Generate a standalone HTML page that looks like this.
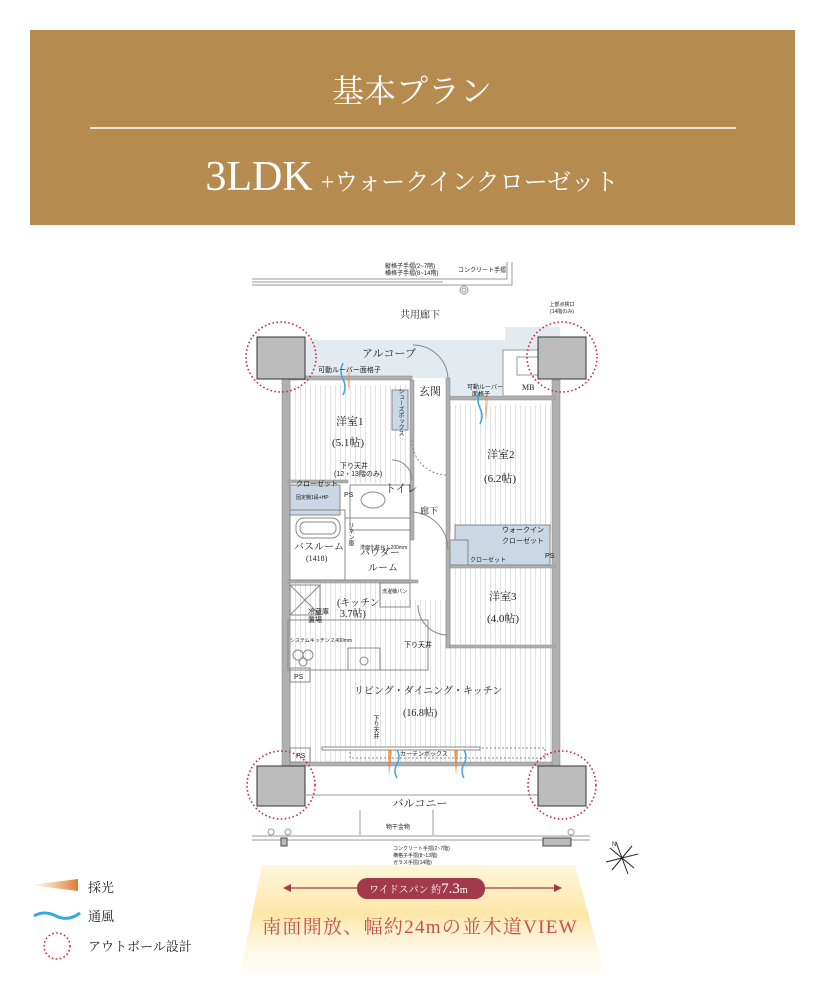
<!DOCTYPE html>
<html><head><meta charset="utf-8"><style>
html,body{margin:0;padding:0;background:#fff}
svg{display:block}
text{font-family:"Liberation Serif","Noto Serif CJK SC","Noto Sans CJK JP",serif;fill:#222}
.s{font-family:"Liberation Sans","Noto Sans CJK JP",sans-serif}
</style></head><body>
<svg width="825" height="990" viewBox="0 0 825 990" xmlns="http://www.w3.org/2000/svg">
<defs>
<pattern id="fl" width="5" height="10" patternUnits="userSpaceOnUse"><rect width="5" height="10" fill="#fff"/><line x1="0.5" y1="0" x2="0.5" y2="10" stroke="#e2e2e2" stroke-width="1"/></pattern>
<linearGradient id="lt" x1="0" y1="0" x2="1" y2="0"><stop offset="0" stop-color="#f0a060" stop-opacity="0"/><stop offset="1" stop-color="#e07a30"/></linearGradient>
<linearGradient id="lt2" x1="0" y1="1" x2="0" y2="0"><stop offset="0" stop-color="#e8843a"/><stop offset="1" stop-color="#e8843a" stop-opacity="0"/></linearGradient>
<linearGradient id="yg" x1="0" y1="0" x2="0" y2="1"><stop offset="0" stop-color="#fff6dc"/><stop offset="0.45" stop-color="#fde7a8"/><stop offset="1" stop-color="#fffaf0" stop-opacity="0.3"/></linearGradient>
</defs>
<rect x="30" y="30" width="765" height="195" fill="#b68b50"/>
<text x="412" y="102" text-anchor="middle" font-size="32" style="fill:#fff">基本プラン</text>
<line x1="90" y1="128" x2="736" y2="128" stroke="#fff" stroke-width="1.5"/>
<text x="412" y="190" text-anchor="middle" style="fill:#fff"><tspan font-size="42">3LDK</tspan><tspan font-size="24" dx="8">+ウォークインクローゼット</tspan></text>

<g stroke="#999" fill="none" stroke-width="1">
<line x1="252" y1="279" x2="443" y2="279"/><line x1="252" y1="282" x2="443" y2="282"/><line x1="252" y1="285" x2="443" y2="285"/>
<polyline points="443,279 507,279 507,262"/><polyline points="443,285 512,285 512,262"/>
<circle cx="464" cy="290" r="4"/><circle cx="464" cy="290" r="2"/>
</g>
<text x="385" y="268" font-size="6" class="s">縦格子手摺(2~7階)</text>
<text x="385" y="275" font-size="6" class="s">横格子手摺(8~14階)</text>
<text x="458" y="272" font-size="6" class="s">コンクリート手摺</text>
<text x="420" y="318" text-anchor="middle" font-size="10">共用廊下</text>
<text x="562" y="306" text-anchor="middle" font-size="5" class="s">上部点検口</text>
<text x="562" y="313" text-anchor="middle" font-size="5" class="s">(14階のみ)</text>

<polygon points="305,340 505,340 505,327 560,327 560,395 450,395 450,378 305,378" fill="#e3eaf0"/>
<rect x="503" y="350" width="52" height="46" fill="#fff" stroke="#999"/>
<rect x="517" y="357" width="22" height="18" fill="none" stroke="#999"/>
<text x="522" y="390" font-size="8">MB</text>
<text x="362" y="357" font-size="11">アルコーブ</text>

<rect x="288" y="385" width="124" height="98" fill="url(#fl)"/>
<rect x="450" y="405" width="105" height="128" fill="url(#fl)"/>
<rect x="450" y="568" width="105" height="80" fill="url(#fl)"/>
<rect x="288" y="648" width="267" height="115" fill="url(#fl)"/>
<rect x="288" y="583" width="93" height="65" fill="url(#fl)"/>
<rect x="381" y="600" width="69" height="48" fill="url(#fl)"/>

<g fill="#b0b0b0" stroke="#888" stroke-width="0.5">
<rect x="282" y="378" width="8" height="390"/>
<rect x="552" y="380" width="8" height="388"/>
<rect x="290" y="376" width="122" height="4"/>
<rect x="448" y="396" width="107" height="4"/>
<rect x="410" y="380" width="4" height="160"/>
<rect x="446" y="378" width="4" height="270"/>
<rect x="290" y="762" width="262" height="4"/>
<rect x="288" y="480" width="60" height="3"/>
<rect x="288" y="580" width="130" height="3"/>
<rect x="450" y="565" width="105" height="3"/>
<rect x="450" y="645" width="105" height="3"/>
</g>
<g stroke="#888" fill="none" stroke-width="1">
<rect x="350" y="485" width="60" height="45"/>
<rect x="290" y="485" width="50" height="30" fill="#c9d8e4"/>
<rect x="290" y="510" width="55" height="70"/>
<rect x="345" y="518" width="65" height="62"/>
<rect x="380" y="583" width="30" height="24"/>
<rect x="288" y="620" width="140" height="50"/>
<rect x="290" y="668" width="20" height="14"/>
<rect x="290" y="748" width="20" height="14"/>
<rect x="290" y="585" width="30" height="30"/>
<line x1="290" y1="585" x2="320" y2="615"/><line x1="320" y1="585" x2="290" y2="615"/>
<rect x="296" y="518" width="44" height="20" rx="8"/>
<rect x="300" y="522" width="36" height="12" rx="5"/>
<ellipse cx="373" cy="500" rx="12" ry="8"/>
<rect x="348" y="648" width="32" height="22"/><circle cx="364" cy="661" r="4"/>
<circle cx="298" cy="655" r="5"/><circle cx="308" cy="655" r="5"/><circle cx="303" cy="662" r="4"/>
<rect x="455" y="525" width="95" height="40" fill="#c9d8e4"/>
<rect x="450" y="540" width="18" height="25" fill="#c9d8e4"/>
<rect x="392" y="390" width="16" height="40" fill="#c9d8e4"/>
<rect x="350" y="748" width="195" height="10" stroke-dasharray="2,2"/>
<rect x="322" y="747" width="158" height="3" fill="#fff"/>
<path d="M412,440 A35,35 0 0 0 447,475" stroke-dasharray="2,2"/>
<path d="M412,512 A38,38 0 0 1 448,550"/>
<path d="M413,345 A35,35 0 0 1 448,378"/>
<path d="M392,460 A20,20 0 0 1 412,480"/>
<path d="M418,605 A30,30 0 0 0 448,635"/>
</g>
<g stroke="#999" fill="none">
<line x1="306" y1="795" x2="540" y2="795"/>
<line x1="360" y1="810" x2="360" y2="835"/><line x1="433" y1="810" x2="433" y2="835"/>
<line x1="252" y1="836" x2="590" y2="836"/><line x1="252" y1="840" x2="590" y2="840"/>
<circle cx="271" cy="832" r="3"/><circle cx="288" cy="832" r="3"/><circle cx="571" cy="832" r="3"/>
</g>
<rect x="543" y="838" width="28" height="8" fill="#bbb" stroke="#444"/>
<rect x="281" y="838" width="6" height="8" fill="#bbb" stroke="#444"/>
<text x="420" y="807" text-anchor="middle" font-size="11">バルコニー</text>
<text x="398" y="829" text-anchor="middle" font-size="6" class="s">物干金物</text>
<text x="393" y="850" font-size="5" class="s">コンクリート手摺(2~7階)</text>
<text x="393" y="857" font-size="5" class="s">横格子手摺(8~13階)</text>
<text x="393" y="864" font-size="5" class="s">ガラス手摺(14階)</text>

<g fill="#bcbcbc" stroke="#333" stroke-width="1">
<rect x="257" y="337" width="48" height="42"/>
<rect x="538" y="337" width="48" height="42"/>
<rect x="257" y="766" width="48" height="40"/>
<rect x="538" y="766" width="48" height="40"/>
</g>
<g fill="none" stroke="#c8303a" stroke-width="1.6" stroke-dasharray="1.6,2.4">
<circle cx="281" cy="357" r="35"/><circle cx="562" cy="357" r="35"/>
<circle cx="281" cy="785" r="34"/><circle cx="562" cy="785" r="34"/>
</g>

<g>
<polygon points="346,365 351,365 349,392" fill="url(#lt2)"/>
<polygon points="484,392 489,392 486,420" fill="url(#lt2)"/>
<polygon points="388,750 392,750 389,776" fill="#e8843a" opacity="0.8"/>
<polygon points="454,750 458,750 456,776" fill="#e8843a" opacity="0.8"/>
<g stroke="#3aa8e0" fill="none" stroke-width="1.5">
<path d="M343,363 q-4,8 0,16 q4,8 0,16"/>
<path d="M480,392 q-4,8 0,16 q4,8 0,16"/>
<path d="M397,750 q4,7 0,14 q-4,7 0,14"/>
<path d="M464,750 q4,7 0,14 q-4,7 0,14"/>
</g>
</g>

<g font-size="7" class="s">
<text x="318" y="372" class="s">可動ルーバー面格子</text>
<text x="467" y="389" class="s" font-size="6">可動ルーバー</text>
<text x="472" y="396" class="s" font-size="6">面格子</text>
<text x="340" y="468" class="s">下り天井</text>
<text x="334" y="476" class="s">(12・13階のみ)</text>
<text x="296" y="486" class="s">クローゼット</text>
<text x="296" y="499" class="s" font-size="5">固定棚1段+HP</text>
<text x="344" y="497" class="s">PS</text>
<text x="360" y="549" class="s" font-size="5">洗面化粧台 1,200mm</text>
<text x="308" y="614" class="s" font-size="7">冷蔵庫</text>
<text x="308" y="622" class="s" font-size="7">置場</text>
<text x="290" y="642" class="s" font-size="5">システムキッチン 2,400mm</text>
<text x="294" y="679" class="s">PS</text>
<text x="296" y="758" class="s">PS</text>
<text x="404" y="647" class="s">下り天井</text>
<text x="400" y="756" class="s" font-size="6">カーテンボックス</text>
<text x="545" y="558" class="s">PS</text>
<text x="502" y="532" class="s">ウォークイン</text>
<text x="502" y="543" class="s">クローゼット</text>
<text x="470" y="562" class="s" font-size="6">クローゼット</text>
<text x="382" y="593" class="s" font-size="5">洗濯機パン</text>
</g>
<g font-size="11">
<text x="336" y="425">洋室1</text>
<text x="332" y="446">(5.1帖)</text>
<text x="419" y="395">玄関</text>
<text x="487" y="458">洋室2</text>
<text x="484" y="482">(6.2帖)</text>
<text x="385" y="492">トイレ</text>
<text x="420" y="514" font-size="9">廊下</text>
<text x="294" y="550" font-size="10">バスルーム</text>
<text x="306" y="561" font-size="8">(1418)</text>
<text x="360" y="556" font-size="10">パウダー</text>
<text x="368" y="571" font-size="10">ルーム</text>
<text x="337" y="606" font-size="10">(キッチン</text>
<text x="340" y="617" font-size="10">3.7帖)</text>
<text x="489" y="600">洋室3</text>
<text x="487" y="622">(4.0帖)</text>
<text x="354" y="694" font-size="10">リビング・ダイニング・キッチン</text>
<text x="403" y="716" font-size="10">(16.8帖)</text>
<text x="375" y="715" font-size="6" class="s" writing-mode="tb">下り天井</text>
<text x="400" y="388" font-size="6" class="s" writing-mode="tb">シューズボックス</text>
<text x="350" y="522" font-size="6" class="s" writing-mode="tb">リネン庫</text>
</g>

<g stroke="#222" stroke-width="1" fill="none" transform="translate(622,858)">
<line x1="-6" y1="-16" x2="6" y2="16"/><line x1="-16" y1="4" x2="16" y2="-4"/>
<line x1="-12" y1="-10" x2="12" y2="10"/><line x1="-10" y1="12" x2="10" y2="-12"/>
</g>
<text x="612" y="846" font-size="6" class="s">N</text>

<polygon points="262,865 575,865 605,975 240,975" fill="url(#yg)"/>
<line x1="288" y1="888" x2="557" y2="888" stroke="#a33a4a" stroke-width="1.2"/>
<polygon points="283,888 291,884 291,892" fill="#a33a4a"/>
<polygon points="562,888 554,884 554,892" fill="#a33a4a"/>
<rect x="357" y="878" width="128" height="21" rx="10" fill="#a33a4a"/>
<text x="369" y="893" font-size="10" style="fill:#fff">ワイドスパン 約<tspan font-size="15">7.3</tspan>m</text>
<text x="420" y="933" text-anchor="middle" font-size="19" letter-spacing="1.3" style="fill:#c25050">南面開放、幅約24mの並木道VIEW</text>

<polygon points="30,885 78,879 78,891" fill="url(#lt)"/>
<text x="88" y="892" font-size="13">採光</text>
<path d="M34,916 q10,-6 22,0 t24,-3" stroke="#3aa8e0" stroke-width="3" fill="none"/>
<text x="88" y="921" font-size="13">通風</text>
<circle cx="57" cy="946" r="13" fill="none" stroke="#c8303a" stroke-width="1.6" stroke-dasharray="1.6,2.4"/>
<text x="88" y="951" font-size="13">アウトボール設計</text>
</svg>
</body></html>
